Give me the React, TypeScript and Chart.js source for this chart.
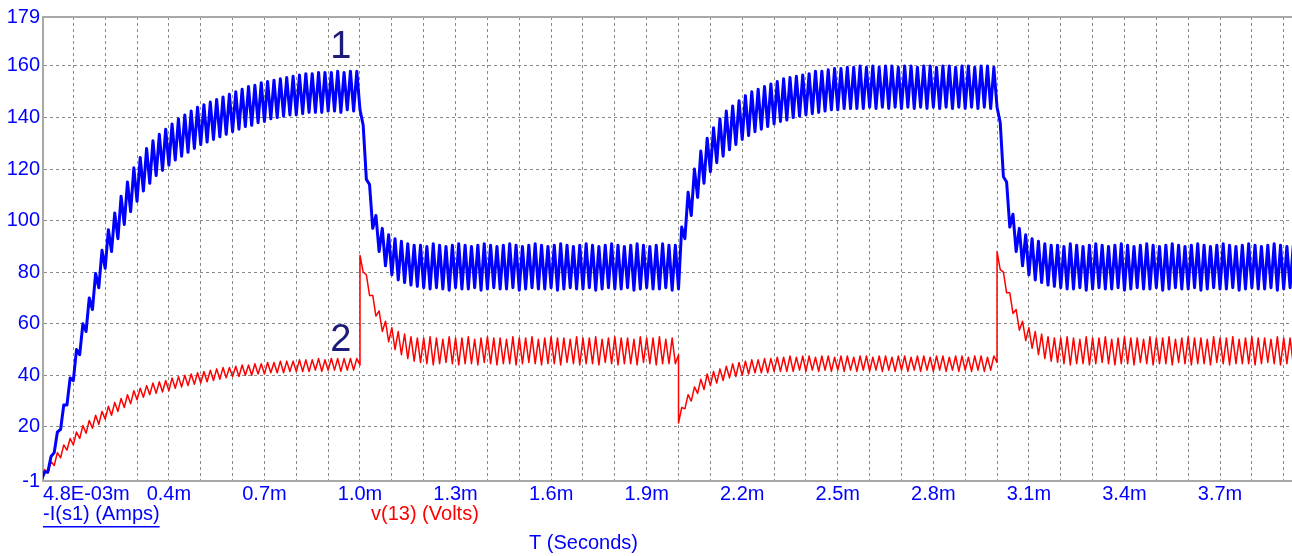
import React, { useEffect, useRef } from 'react';
import { Chart, registerables } from 'chart.js';

Chart.register(...registerables);

// ---------------- data ----------------
// Each segment is sampled every 0.01 ms (one switching half-period), starting at its start time.
const sampleStepMs = 0.01;
const segmentStartMs = [0, 1, 2, 3];

// -I(s1) (Amps), blue
const ampSeg1 = [
  -0.5, 2.5, 2.5, 8.5, 10, 18, 19, 28.5, 28.5, 39,
  38, 50, 48, 60, 57, 70, 65.5, 79.5, 74, 88.5,
  81.5, 96.5, 88, 103, 93, 109.5, 98.5, 115, 103.5, 120.5,
  107.5, 124.5, 111.5, 128, 114.5, 131, 117.5, 133.5, 119.5, 135.5,
  121.5, 137.5, 123.5, 139.5, 125, 141, 126.5, 142.5, 128, 144,
  129.5, 145, 130.5, 146, 131.5, 147, 132.5, 148, 133.5, 149,
  134.5, 150, 135.5, 151, 136.5, 152, 137, 152.5, 138, 153.5,
  138.5, 154, 139.5, 154.5, 140, 155, 140.5, 155.5, 141, 156,
  141, 156.5, 141.5, 157, 142, 157, 142, 157.5, 142, 157.5,
  142.5, 157.5, 142.5, 158, 142, 157.5, 143, 158, 142.5, 158,
  143,
];
const ampSeg2 = [
  143, 137, 116, 114, 97, 102, 88, 97, 82.5, 94.5,
  79, 93, 77, 92, 76, 91, 75, 90.5, 74.5, 90.5,
  74, 90, 73.5, 91, 74, 90.5, 73.5, 90, 73, 90.5,
  74, 91, 73.5, 90.5, 73.5, 90, 74, 90.5, 73, 91,
  73.5, 90.5, 74, 90, 73.5, 90.5, 73.5, 91, 74, 90.5,
  73, 90, 73.5, 90.5, 74, 91, 73.5, 90.5, 73.5, 90,
  74, 90.5, 73, 91, 73.5, 90.5, 74, 90, 73.5, 90.5,
  73.5, 91, 74, 90.5, 73, 90, 73.5, 90.5, 74, 91,
  73.5, 90.5, 73.5, 90, 74, 90.5, 73, 91, 73.5, 90.5,
  74, 90, 73.5, 90.5, 73.5, 91, 74, 90.5, 73, 90.5,
  73.5,
];
const ampSeg3 = [
  73.5, 97.5, 93, 111, 102, 120, 109, 127, 114.5, 132,
  119, 136, 122.5, 139.5, 125, 142.5, 127.5, 144.5, 129.5, 146.5,
  131.5, 148.5, 133, 150, 134.5, 151, 135.5, 152, 136.5, 153,
  137.5, 154, 138.5, 155, 139, 155.5, 140, 156, 140.5, 156.5,
  141, 157, 141.5, 158, 142, 158, 142.5, 158.5, 143, 159,
  143, 159, 143.5, 159.5, 143.5, 159.5, 143.5, 160, 143.5, 159.5,
  144, 160, 143.5, 159.5, 144, 160, 143.5, 160, 144, 159.5,
  143.5, 160, 144, 160, 143.5, 159.5, 144, 160, 143.5, 160,
  144, 159.5, 143.5, 160, 144, 160, 143.5, 159.5, 144, 160,
  143.5, 160, 144, 159.5, 143.5, 160, 144, 160, 143.5, 159.5,
  144,
];
const ampSeg4 = [
  144, 138, 117, 115, 97.5, 102.5, 88, 97, 82.5, 94.5,
  79, 93, 77, 92, 76, 91, 75, 90.5, 74.5, 90.5,
  74, 90, 73.5, 91, 73.5, 90.5, 74, 90, 73, 90.5,
  73.5, 91, 74, 90.5, 73.5, 90, 73.5, 90.5, 74, 91,
  73, 90.5, 73.5, 90, 74, 90.5, 73.5, 91, 73.5, 90.5,
  74, 90, 73, 90.5, 73.5, 91, 74, 90.5, 73.5, 90,
  73.5, 90.5, 74, 91, 73, 90.5, 73.5, 90, 74, 90.5,
  73.5, 91, 73.5, 90.5, 74, 90, 73, 90.5, 73.5, 91,
  74, 90.5, 73.5, 90, 73.5, 90.5, 74, 91, 73, 90.5,
  73.5, 90, 74, 90.5,
];

// v(13) (Volts), red
const voltSeg1 = [
  0, 3.5, 2, 6.5, 5, 10, 8, 13, 11, 15.5,
  13, 18, 15.5, 20.5, 17.5, 22.5, 19.5, 24.5, 21, 26,
  23, 28, 24.5, 29.5, 26, 31, 27.5, 32.5, 29, 34,
  30.5, 35, 31.5, 36, 32.5, 37, 33, 37.5, 33.5, 38,
  34, 39, 35, 39.5, 35.5, 40, 36, 40.5, 36.5, 41,
  37, 41.5, 37.5, 42, 38, 42.5, 38.5, 43, 39, 43,
  39.5, 43.5, 39.5, 44, 40, 44, 40, 44.5, 40.5, 44.5,
  40.5, 45, 41, 45, 41, 45.5, 41, 45.5, 41.5, 45.5,
  41.5, 46, 41.5, 46, 41.5, 46, 42, 46.5, 41.5, 46,
  42, 46.5, 42, 46.5, 41.5, 46.5, 42, 46.5, 42, 46.5,
  44,
];
const voltSeg2 = [
  86.5, 80, 79, 71, 71, 63, 65, 57, 61, 53,
  58.5, 50, 57, 48, 56, 46.5, 55, 45.5, 54.5, 45,
  54.5, 44.5, 55, 44, 54.5, 44.5, 54, 45, 55, 44.5,
  54.5, 44, 54.5, 44.5, 55, 44.5, 54, 44, 54.5, 45,
  55, 44.5, 54.5, 44, 54.5, 44.5, 54, 44.5, 55, 44,
  54.5, 44.5, 54.5, 45, 55, 44.5, 54, 44, 54.5, 44.5,
  55, 44.5, 54.5, 44, 54.5, 45, 54, 44.5, 55, 44,
  54.5, 44.5, 54.5, 44.5, 55, 44, 54, 45, 54.5, 44.5,
  55, 44, 54.5, 44.5, 54.5, 44.5, 54, 44, 55, 45,
  54.5, 44.5, 54.5, 44, 55, 44.5, 54, 44.5, 54.5, 44.5,
  48,
];
const voltSeg3 = [
  21.5, 27.5, 27, 32.5, 30, 35.5, 33, 38.5, 34.5, 40.5,
  36, 41.5, 37, 42.5, 38, 43.5, 39, 44.5, 39.5, 45,
  40, 45.5, 40.5, 46, 41, 46, 41, 46.5, 41, 46.5,
  41.5, 47, 41.5, 47, 41.5, 47.5, 41.5, 47, 42, 47.5,
  41.5, 47.5, 42, 47, 41.5, 47.5, 42, 47.5, 41.5, 47,
  42, 47.5, 41.5, 47.5, 42, 47, 41.5, 47.5, 42, 47.5,
  41.5, 47, 42, 47.5, 41.5, 47.5, 42, 47, 41.5, 47.5,
  42, 47.5, 41.5, 47, 42, 47.5, 41.5, 47.5, 42, 47,
  41.5, 47.5, 42, 47.5, 41.5, 47, 42, 47.5, 41.5, 47.5,
  42, 47, 41.5, 47.5, 42, 47.5, 41.5, 47, 42, 47.5,
  45,
];
const voltSeg4 = [
  88, 81, 80, 72, 72, 64, 65.5, 57.5, 61, 53.5,
  58.5, 50.5, 57, 48, 56, 46.5, 55, 45.5, 54.5, 45,
  54.5, 44.5, 55, 44, 54.5, 44.5, 54, 44.5, 55, 44,
  54.5, 44.5, 54.5, 45, 55, 44.5, 54, 44, 54.5, 44.5,
  55, 44.5, 54.5, 44, 54.5, 45, 54, 44.5, 55, 44,
  54.5, 44.5, 54.5, 44.5, 55, 44, 54, 45, 54.5, 44.5,
  55, 44, 54.5, 44.5, 54.5, 44.5, 54, 44, 55, 45,
  54.5, 44.5, 54.5, 44, 55, 44.5, 54, 44.5, 54.5, 44.5,
  55, 44, 54.5, 44.5, 54.5, 45, 54, 44.5, 55, 44,
  54.5, 44.5, 54.5, 44,
];

const ampSegments = [ampSeg1, ampSeg2, ampSeg3, ampSeg4];
const voltSegments = [voltSeg1, voltSeg2, voltSeg3, voltSeg4];

// axes
const xMin = 0.0048;
const xMax = 3.926;
const yMin = -1;
const yMax = 179;
const yTickValues = [-1, 20, 40, 60, 80, 100, 120, 140, 160, 179];
const xGridValues = [
  0.0048, 0.1, 0.2, 0.3, 0.4, 0.5, 0.6, 0.7, 0.8, 0.9,
  1.0, 1.1, 1.2, 1.3, 1.4, 1.5, 1.6, 1.7, 1.8, 1.9,
  2.0, 2.1, 2.2, 2.3, 2.4, 2.5, 2.6, 2.7, 2.8, 2.9,
  3.0, 3.1, 3.2, 3.3, 3.4, 3.5, 3.6, 3.7, 3.8, 3.9,
];
const xFirstLabel = '4.8E-03m';
const xLabelValues = [0.4, 0.7, 1.0, 1.3, 1.6, 1.9, 2.2, 2.5, 2.8, 3.1, 3.4, 3.7];
const xLabelTexts = ['0.4m', '0.7m', '1.0m', '1.3m', '1.6m', '1.9m', '2.2m', '2.5m', '2.8m', '3.1m', '3.4m', '3.7m'];

// texts
const seriesNames = ['-I(s1) (Amps)', 'v(13) (Volts)'];
const axisTitle = 'T (Seconds)';
const annotationTexts = ['1', '2'];
const annotationTimes = [0.94, 0.94];
const annotationValues = [163, 49.5];

// ---------------- styling ----------------
const FONT = '"Liberation Sans", Arial, Helvetica, sans-serif';
const BLUE = '#0000ff';
const RED = '#ff0000';
const GRID = '#8a8a8a';
const FRAME = '#a8a8a8';
const ANNOT = '#1c1c78';

function toPoints(segments: number[][]) {
  const pts: { x: number; y: number }[] = [];
  segments.forEach((seg, s) => {
    seg.forEach((v, i) => {
      pts.push({ x: +(segmentStartMs[s] + i * sampleStepMs).toFixed(4), y: v });
    });
  });
  return pts;
}

const overlayPlugin = {
  id: 'overlayTexts',
  afterDraw(chart: any) {
    const { ctx, chartArea, scales } = chart;
    ctx.save();
    // curve numbers
    ctx.fillStyle = ANNOT;
    ctx.font = `38px ${FONT}`;
    ctx.textAlign = 'center';
    ctx.textBaseline = 'alphabetic';
    annotationTexts.forEach((t, k) => {
      ctx.fillText(
        t,
        scales.x.getPixelForValue(annotationTimes[k]),
        scales.y.getPixelForValue(annotationValues[k])
      );
    });
    // series names under the axis
    ctx.font = `20px ${FONT}`;
    ctx.textAlign = 'left';
    const nameY = chartArea.bottom + 39;
    ctx.fillStyle = BLUE;
    ctx.fillText(seriesNames[0], chartArea.left, nameY);
    const w = ctx.measureText(seriesNames[0]).width;
    ctx.fillRect(chartArea.left, nameY + 6, w, 1.5);
    ctx.fillStyle = RED;
    ctx.fillText(seriesNames[1], 371, nameY);
    // axis title
    ctx.fillStyle = BLUE;
    ctx.fillText(axisTitle, 529, chartArea.bottom + 67.5);
    ctx.restore();
  },
};

export default function App() {
  const canvasRef = useRef<HTMLCanvasElement>(null);

  useEffect(() => {
    const canvas = canvasRef.current;
    if (!canvas) return;
    const chart = new Chart(canvas, {
      type: 'line',
      data: {
        datasets: [
          {
            label: seriesNames[0],
            data: toPoints(ampSegments),
            borderColor: BLUE,
            backgroundColor: BLUE,
            borderWidth: 3,
            borderJoinStyle: 'round',
            pointRadius: 0,
            tension: 0,
            fill: false,
          },
          {
            label: seriesNames[1],
            data: toPoints(voltSegments),
            borderColor: RED,
            backgroundColor: RED,
            borderWidth: 1.5,
            borderJoinStyle: 'round',
            pointRadius: 0,
            tension: 0,
            fill: false,
          },
        ],
      },
      options: {
        responsive: false,
        animation: false,
        devicePixelRatio: 1,
        layout: { padding: { top: 17, right: 0, bottom: 0, left: 0 } },
        plugins: {
          legend: { display: false },
          tooltip: { enabled: false },
        },
        scales: {
          x: {
            type: 'linear',
            min: xMin,
            max: xMax,
            afterBuildTicks: (scale: any) => {
              scale.ticks = xGridValues.map((v) => ({ value: v }));
            },
            afterFit: (scale: any) => {
              scale.height = 75;
            },
            ticks: {
              autoSkip: false,
              maxRotation: 0,
              minRotation: 0,
              align: 'inner',
              padding: 1,
              color: BLUE,
              font: { family: FONT, size: 20 },
              callback: (value: any, index: number) => {
                if (index === 0) return xFirstLabel;
                const k = xLabelValues.findIndex((v) => Math.abs(v - Number(value)) < 1e-6);
                return k >= 0 ? xLabelTexts[k] : '';
              },
            },
            grid: {
              color: (c: any) => (c.index === 0 ? FRAME : GRID),
              lineWidth: 1,
              drawTicks: false,
            },
            border: {
              display: true,
              color: FRAME,
              width: 2,
              dash: (c: any) => (c.tick && c.index === 0 ? [] : [3, 3]),
            },
          },
          y: {
            type: 'linear',
            min: yMin,
            max: yMax,
            afterBuildTicks: (scale: any) => {
              scale.ticks = yTickValues.map((v) => ({ value: v }));
            },
            afterFit: (scale: any) => {
              scale.width = 43;
            },
            ticks: {
              autoSkip: false,
              padding: 3,
              color: BLUE,
              font: { family: FONT, size: 20 },
              callback: (value: any) => String(value),
            },
            grid: {
              color: (c: any) => (c.tick && c.tick.value === yMax ? FRAME : GRID),
              lineWidth: (c: any) => (c.tick && c.tick.value === yMax ? 2 : 1),
              drawTicks: false,
            },
            border: {
              display: true,
              color: FRAME,
              width: 2,
              dash: (c: any) => (c.tick && c.tick.value === yMax ? [] : [3, 3]),
            },
          },
        },
      },
      plugins: [overlayPlugin],
    } as any);
    return () => chart.destroy();
  }, []);

  return (
    <div style={{ position: 'absolute', left: 0, top: 0, width: 1292, height: 556, background: '#ffffff' }}>
      <canvas ref={canvasRef} width={1292} height={556} style={{ display: 'block' }} />
    </div>
  );
}
